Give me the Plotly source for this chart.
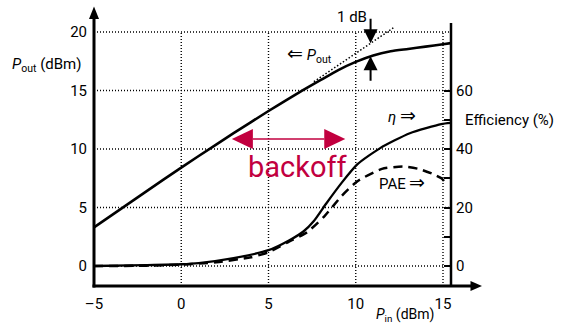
import numpy as np
import plotly.graph_objects as go

W, H = 571, 326
# plot area (pixels)
L, R, T, B = 80, 490, 2, 292
# axis scaling: pixel of Pin = -5 dBm, pixels per dB; pixel of Pout = 0 dBm, pixels per dB
XPX0, XSC = 94, 17.45
YPX0, YSC = 266, 11.7
EFF_PER_DBM = 4.0  # right axis: 20 % per 5 dBm

FONT = "Roboto, Liberation Sans, sans-serif"
CRIMSON = "#c2003f"

# ---- data ----
pin_ticks = [-5, 0, 5, 10, 15]
pin_tick_text = ["\u20135", "0", "5", "10", "15"]
pout_ticks = [0, 5, 10, 15, 20]
eff_ticks = [0, 20, 40, 60]
eff_minor_ticks = [10, 30, 50]

pin_out = [-5, -3, -1, 1, 3, 5, 6, 7, 8, 9, 10, 11, 12, 13, 14, 15, 15.45]
pout = [3.3, 5.35, 7.4, 9.4, 11.35, 13.25, 14.15, 15.05, 15.9, 16.75, 17.45,
        18.0, 18.35, 18.55, 18.75, 18.95, 19.05]

# small-signal (linear) extrapolation
pin_lin = [7.6, 12.2]
pout_lin = [15.75, 20.4]

pin_eta = [-5, -2, 0, 1, 3, 5, 6.2, 7.0, 7.6, 8.3, 9.2, 10.1, 11.4, 13.1, 14.9, 15.45]
eta = [0, 0.3, 0.6, 1.0, 2.7, 5.4, 8.8, 11.8, 15.4, 21.3, 28.5, 34.8, 40.3, 45.4, 48.5, 48.9]

pin_pae = [-5, -2, 0, 2, 4, 5, 6.1, 7.2, 8.2, 9.2, 10.1, 11.5, 12.7, 13.6, 14.4, 14.95, 15.2]
pae = [0, 0.1, 0.5, 1.3, 3.0, 4.7, 8.1, 11.5, 17.0, 24.0, 29.0, 33.2, 34.0, 33.2, 31.5, 29.8, 27.8]

p1db_pin = 10.85
backoff_from, backoff_to, backoff_level = 2.9, 9.4, 10.85


def xd(px):
    return -5 + (px - XPX0) / XSC


def yd(py):
    return (YPX0 - py) / YSC


def xp(px):
    return (px - L) / (R - L)


def yp(py):
    return (B - py) / (B - T)


x_range = [xd(L), xd(R)]
y_range = [yd(B), yd(T)]
y2_range = [v * EFF_PER_DBM for v in y_range]

fig = go.Figure()

fig.add_trace(go.Scatter(x=pin_lin, y=pout_lin, mode="lines",
                         line=dict(color="black", width=1.5, dash="1.5px,2px"),
                         hoverinfo="skip"))
fig.add_trace(go.Scatter(x=pin_out, y=pout, mode="lines",
                         line=dict(color="black", width=2.6, shape="spline", smoothing=0.6)))
fig.add_trace(go.Scatter(x=pin_eta, y=eta, mode="lines", yaxis="y2",
                         line=dict(color="black", width=2.3, shape="spline", smoothing=0.6)))
fig.add_trace(go.Scatter(x=pin_pae, y=pae, mode="lines", yaxis="y2",
                         line=dict(color="black", width=2.5, dash="9px,6px",
                                   shape="spline", smoothing=0.6)))

shapes = []
grid = dict(color="black", width=1.4, dash="1px,2px")
x_right_axis = xd(451)
y_bottom = yd(286)
for v in pout_ticks:
    shapes.append(dict(type="line", xref="x", yref="y", x0=-5, x1=x_right_axis,
                       y0=v, y1=v, line=grid, layer="below"))
for v in pin_ticks[1:]:
    shapes.append(dict(type="line", xref="x", yref="y", x0=v, x1=v,
                       y0=y_bottom, y1=max(pout_ticks), line=grid, layer="below"))

axis_line = dict(color="black", width=3)
# left axis with arrow
shapes.append(dict(type="line", xref="x", yref="y", x0=-5, x1=-5,
                   y0=yd(287.5), y1=yd(18), line=axis_line))
shapes.append(dict(type="path", xref="x", yref="y",
                   path=f"M {-5} {yd(6.5)} L {xd(89)} {yd(19)} L {xd(99)} {yd(19)} Z",
                   fillcolor="black", line=dict(width=0)))
# bottom axis with arrow
shapes.append(dict(type="line", xref="x", yref="y", x0=xd(92.5), x1=xd(472),
                   y0=y_bottom, y1=y_bottom, line=axis_line))
shapes.append(dict(type="path", xref="x", yref="y",
                   path=f"M {xd(482)} {y_bottom} L {xd(470.5)} {yd(281)} L {xd(470.5)} {yd(291)} Z",
                   fillcolor="black", line=dict(width=0)))
# right (efficiency) axis
shapes.append(dict(type="line", xref="x", yref="y", x0=x_right_axis, x1=x_right_axis,
                   y0=yd(287), y1=yd(23), line=dict(color="black", width=2.5)))

# backoff double arrow
head_len = 21 / XSC
head_half = 10 / YSC
shapes.append(dict(type="line", xref="x", yref="y",
                   x0=backoff_from + head_len, x1=backoff_to - head_len,
                   y0=backoff_level, y1=backoff_level,
                   line=dict(color=CRIMSON, width=1.5)))
shapes.append(dict(type="path", xref="x", yref="y",
                   path=(f"M {backoff_from} {backoff_level} "
                         f"L {backoff_from + head_len} {backoff_level + head_half} "
                         f"L {backoff_from + head_len} {backoff_level - head_half} Z"),
                   fillcolor=CRIMSON, line=dict(width=0)))
shapes.append(dict(type="path", xref="x", yref="y",
                   path=(f"M {backoff_to} {backoff_level} "
                         f"L {backoff_to - head_len} {backoff_level + head_half} "
                         f"L {backoff_to - head_len} {backoff_level - head_half} Z"),
                   fillcolor=CRIMSON, line=dict(width=0)))

ARROW_L = "<span style='font-size:19px'>\u21d0</span>"
ARROW_R = "<span style='font-size:19px'>\u21d2</span>"
lab = dict(family=FONT, size=15, color="black")
annotations = [
    dict(text="<i>P</i><sub>out</sub> (dBm)", x=xp(83), y=yp(65), xanchor="right", yanchor="middle"),
    dict(text=f"{ARROW_L} <i>P</i><sub>out</sub>", x=xp(285), y=yp(54), xanchor="left", yanchor="middle"),
    dict(text="1 dB", x=xp(352), y=yp(17), xanchor="center", yanchor="middle"),
    dict(text=f"<i>\u03b7</i> {ARROW_R}", x=xp(386), y=yp(115), xanchor="left", yanchor="middle"),
    dict(text="Efficiency (%)", x=xp(463), y=yp(120), xanchor="left", yanchor="middle"),
    dict(text=f"PAE {ARROW_R}", x=xp(377), y=yp(182), xanchor="left", yanchor="middle"),
    dict(text="<i>P</i><sub>in</sub> (dBm)", x=xp(374), y=yp(315), xanchor="left", yanchor="middle",
         font=dict(family=FONT, size=14, color="black")),
    dict(text="backoff", x=xp(298), y=yp(167), xanchor="center", yanchor="middle",
         font=dict(family=FONT, size=29, color=CRIMSON)),
]
for a in annotations:
    a.setdefault("xref", "paper")
    a.setdefault("yref", "paper")
    a.setdefault("showarrow", False)
    a.setdefault("font", lab)

# 1 dB compression arrows
lin_at = float(np.interp(p1db_pin, pin_lin, pout_lin))
out_at = float(np.interp(p1db_pin, pin_out, pout))
arrow = dict(xref="x", yref="y", text="", showarrow=True, arrowhead=2,
             arrowsize=1.4, arrowwidth=2, arrowcolor="black", ax=0, standoff=0)
annotations.append(dict(arrow, x=p1db_pin, y=lin_at, ay=-26))
annotations.append(dict(arrow, x=p1db_pin, y=out_at, ay=26))

tick_font = dict(family=FONT, size=15, color="black")
fig.update_layout(
    width=W, height=H,
    margin=dict(l=L, r=W - R, t=T, b=H - B, pad=0),
    paper_bgcolor="white", plot_bgcolor="white",
    showlegend=False,
    shapes=shapes,
    annotations=annotations,
    xaxis=dict(range=x_range, anchor="free", position=yp(286), showgrid=False,
               zeroline=False, showline=False, ticks="", tickvals=pin_ticks,
               ticktext=pin_tick_text, tickfont=tick_font, ticklabelstandoff=7),
    yaxis=dict(range=y_range, anchor="free", position=xp(94), showgrid=False,
               zeroline=False, showline=False, ticks="", tickvals=pout_ticks,
               tickfont=tick_font, ticklabelstandoff=7),
    yaxis2=dict(range=y2_range, overlaying="y", side="right", anchor="free",
                position=xp(451), showgrid=False, zeroline=False, showline=False,
                ticks="inside", ticklen=7, tickwidth=2, tickcolor="black",
                tickvals=eff_ticks, tickfont=tick_font, ticklabelstandoff=4,
                minor=dict(tickvals=eff_minor_ticks, ticks="inside", ticklen=7,
                           tickwidth=2, tickcolor="black")),
)

fig.write_html("out.html")
